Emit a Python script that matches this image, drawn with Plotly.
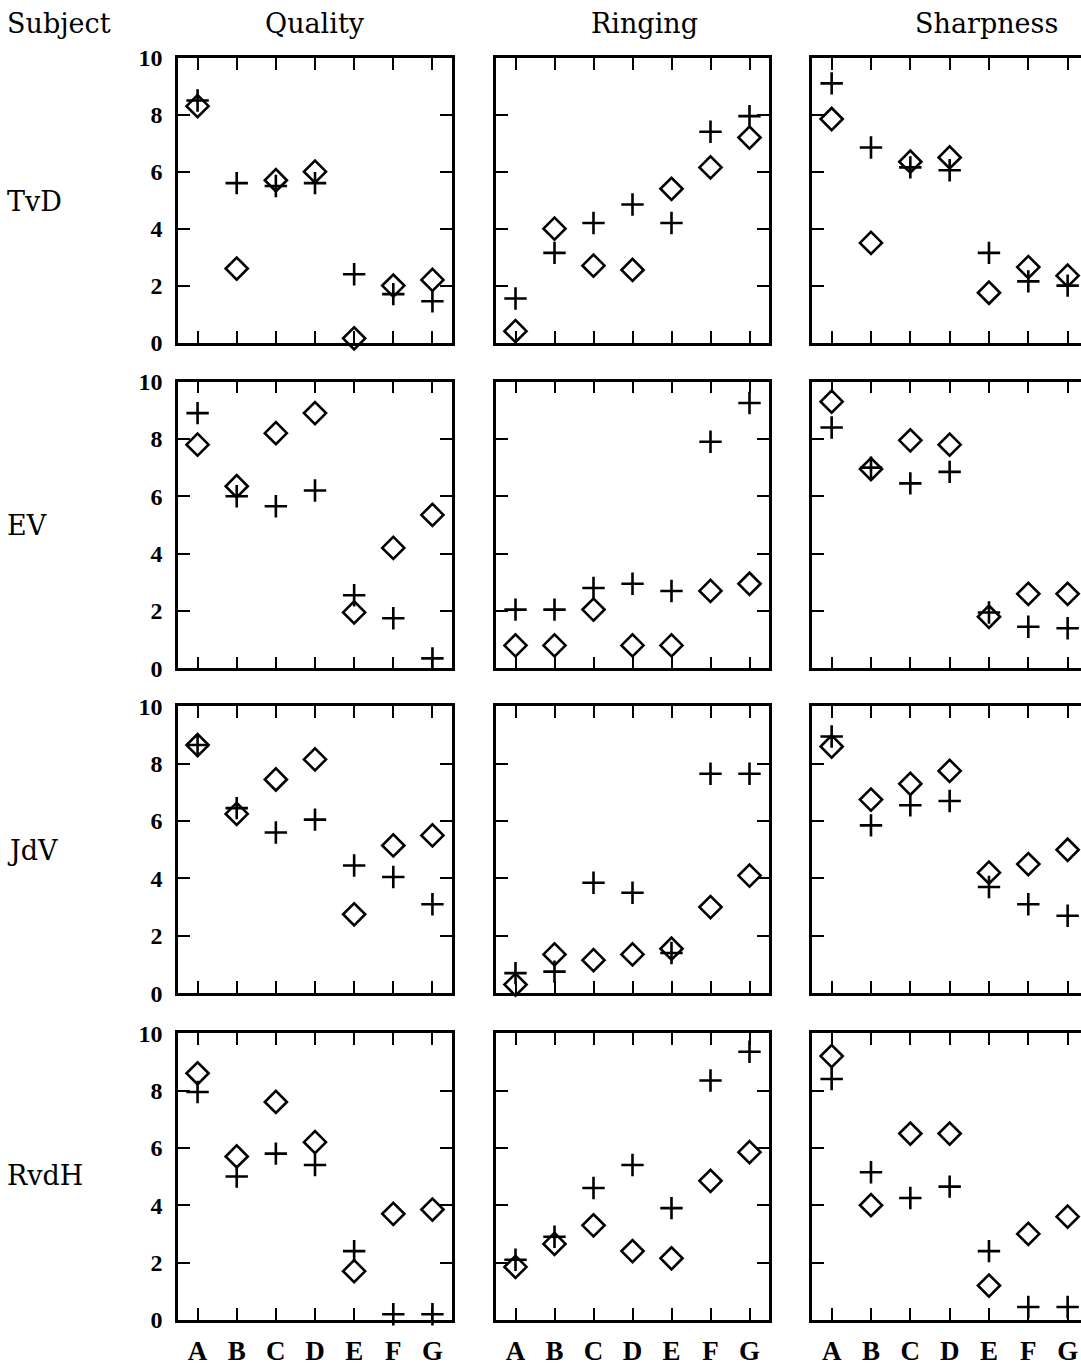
import plotly.graph_objects as go

W, H = 1081, 1366

categories = ["A", "B", "C", "D", "E", "F", "G"]
subjects = ["TvD", "EV", "JdV", "RvdH"]
attributes = ["Quality", "Ringing", "Sharpness"]
y_ticks = [0, 2, 4, 6, 8, 10]

# TvD
tvd_quality_diamond = [8.3, 2.6, 5.7, 6.0, 0.15, 2.0, 2.2]
tvd_quality_plus = [8.5, 5.6, 5.5, 5.6, 2.4, 1.7, 1.45]
tvd_ringing_diamond = [0.4, 4.0, 2.7, 2.55, 5.4, 6.15, 7.2]
tvd_ringing_plus = [1.55, 3.15, 4.2, 4.85, 4.2, 7.4, 7.95]
tvd_sharpness_diamond = [7.85, 3.5, 6.35, 6.5, 1.75, 2.65, 2.35]
tvd_sharpness_plus = [9.1, 6.85, 6.15, 6.05, 3.15, 2.15, 2.0]
# EV
ev_quality_diamond = [7.8, 6.35, 8.2, 8.9, 1.95, 4.2, 5.35]
ev_quality_plus = [8.9, 6.0, 5.65, 6.2, 2.55, 1.75, 0.35]
ev_ringing_diamond = [0.8, 0.8, 2.05, 0.8, 0.8, 2.7, 2.95]
ev_ringing_plus = [2.05, 2.05, 2.8, 2.95, 2.7, 7.9, 9.25]
ev_sharpness_diamond = [9.3, 6.95, 7.95, 7.8, 1.8, 2.6, 2.6]
ev_sharpness_plus = [8.4, 7.0, 6.45, 6.85, 1.95, 1.45, 1.4]
# JdV
jdv_quality_diamond = [8.65, 6.25, 7.45, 8.15, 2.75, 5.15, 5.5]
jdv_quality_plus = [8.65, 6.45, 5.6, 6.05, 4.45, 4.05, 3.1]
jdv_ringing_diamond = [0.3, 1.35, 1.15, 1.35, 1.55, 3.0, 4.1]
jdv_ringing_plus = [0.7, 0.75, 3.85, 3.5, 1.4, 7.65, 7.65]
jdv_sharpness_diamond = [8.6, 6.75, 7.3, 7.75, 4.2, 4.5, 5.0]
jdv_sharpness_plus = [8.95, 5.85, 6.55, 6.7, 3.7, 3.1, 2.7]
# RvdH
rvdh_quality_diamond = [8.6, 5.7, 7.6, 6.2, 1.7, 3.7, 3.85]
rvdh_quality_plus = [7.95, 5.0, 5.8, 5.4, 2.4, 0.2, 0.2]
rvdh_ringing_diamond = [1.85, 2.65, 3.3, 2.4, 2.15, 4.85, 5.85]
rvdh_ringing_plus = [2.1, 2.9, 4.6, 5.4, 3.9, 8.35, 9.35]
rvdh_sharpness_diamond = [9.2, 4.0, 6.5, 6.5, 1.2, 3.0, 3.6]
rvdh_sharpness_plus = [8.4, 5.15, 4.25, 4.65, 2.4, 0.45, 0.45]

grid = [
    [(tvd_quality_diamond, tvd_quality_plus), (tvd_ringing_diamond, tvd_ringing_plus), (tvd_sharpness_diamond, tvd_sharpness_plus)],
    [(ev_quality_diamond, ev_quality_plus), (ev_ringing_diamond, ev_ringing_plus), (ev_sharpness_diamond, ev_sharpness_plus)],
    [(jdv_quality_diamond, jdv_quality_plus), (jdv_ringing_diamond, jdv_ringing_plus), (jdv_sharpness_diamond, jdv_sharpness_plus)],
    [(rvdh_quality_diamond, rvdh_quality_plus), (rvdh_ringing_diamond, rvdh_ringing_plus), (rvdh_sharpness_diamond, rvdh_sharpness_plus)],
]

# panel geometry in pixels (target positions)
col_px = [(178, 452), (496, 769), (812, 1081)]
row_px = [(57, 342), (381, 668), (706, 993), (1033, 1320)]
x_ranges = [[-0.5, 6.5], [-0.5, 6.5], [-0.5, 6.34]]


def py(t):
    """target pixel row -> paper y (with empirical vertical correction)"""
    spec = (t - 12.2) / 0.9816
    return 1 - spec / H


TICKFONT = "Liberation Serif"
TITLEFONT = "DejaVu Serif"
fig = go.Figure()
layout = {}
for r in range(4):
    for c in range(3):
        i = r * 3 + c + 1
        xa = "x" if i == 1 else f"x{i}"
        ya = "y" if i == 1 else f"y{i}"
        dia, plus = grid[r][c]
        fig.add_trace(go.Scatter(
            x=categories, y=dia, xaxis=xa, yaxis=ya, mode="markers",
            name="diamond", showlegend=False, cliponaxis=False,
            marker=dict(symbol="diamond-open", size=17, color="black",
                        line=dict(width=2.6, color="black"))))
        fig.add_trace(go.Scatter(
            x=categories, y=plus, xaxis=xa, yaxis=ya, mode="markers",
            name="plus", showlegend=False, cliponaxis=False,
            marker=dict(symbol="cross-thin-open", size=16, color="black",
                        line=dict(width=2.6, color="black"))))
        x0, x1 = col_px[c]
        t, b = row_px[r]
        tick_style = dict(ticks="inside", ticklen=12, tickwidth=2, tickcolor="black",
                          showgrid=False, zeroline=False)
        line_style = dict(showline=True, linewidth=2.5, linecolor="black")
        layout["xaxis" if i == 1 else f"xaxis{i}"] = dict(
            domain=[x0 / W, x1 / W], anchor=ya, type="category",
            categoryorder="array", categoryarray=categories,
            range=x_ranges[c], showticklabels=(r == 3), ticklabelstandoff=5,
            tickfont=dict(family=TICKFONT, size=27, color="black", weight="bold"),
            mirror="ticks", **tick_style, **line_style)
        layout["yaxis" if i == 1 else f"yaxis{i}"] = dict(
            domain=[py(b), py(t)], anchor=xa, range=[0, 10],
            tickvals=y_ticks, showticklabels=(c == 0), ticklabelstandoff=8,
            tickfont=dict(family=TICKFONT, size=24, color="black", weight="bold"),
            mirror=("ticks" if c < 2 else False), **tick_style, **line_style)
        if c == 2:
            # right-hand inner ticks of the cut-off column, without a frame line
            j = 13 + r
            layout[f"yaxis{j}"] = dict(
                overlaying=ya, side="right", anchor=xa, range=[0, 10],
                tickvals=y_ticks, showticklabels=False, showline=False,
                **tick_style)

TFONT = dict(family=TITLEFONT, size=27, color="black")
annotations = []
title_x = [315, 644, 986]
for c, name in enumerate(attributes):
    annotations.append(dict(text=name, x=title_x[c] / W, y=py(23), xref="paper", yref="paper",
                            xanchor="center", yanchor="middle", showarrow=False, font=TFONT))
annotations.append(dict(text="Subject", x=5 / W, y=py(23), xref="paper", yref="paper",
                        xanchor="left", yanchor="middle", showarrow=False, font=TFONT))
row_label_y = [201, 525, 850, 1175]
for r, name in enumerate(subjects):
    annotations.append(dict(text=name, x=5 / W, y=py(row_label_y[r]), xref="paper", yref="paper",
                            xanchor="left", yanchor="middle", showarrow=False, font=TFONT))

fig.update_layout(width=W, height=H, autosize=False,
                  margin=dict(l=0, r=0, t=0, b=0),
                  paper_bgcolor="white", plot_bgcolor="white",
                  annotations=annotations, showlegend=False, **layout)

fig.write_html("out.html")
